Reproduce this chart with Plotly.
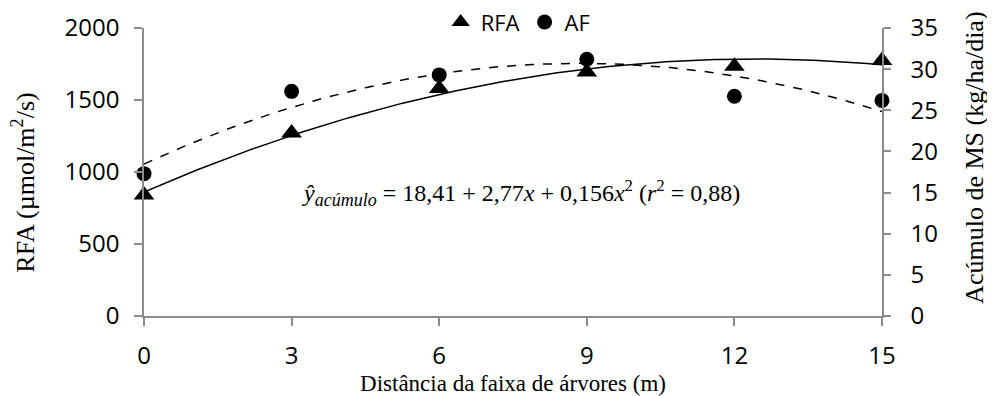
import numpy as np
import plotly.graph_objects as go

distancia = [0, 3, 6, 9, 12, 15]
rfa = [840, 1270, 1580, 1695, 1735, 1775]
af = [17.3, 27.3, 29.3, 31.2, 26.7, 26.2]
x_ticks = [0, 3, 6, 9, 12, 15]

xs = np.linspace(0, 15, 151)
c_rfa = np.polyfit(distancia, rfa, 2)
c_af = np.polyfit(distancia, af, 2)

sans = "Open Sans, Lato, sans-serif"
tick_font = dict(family=sans, size=24, color="#000")
serif = "Liberation Serif, Times New Roman, serif"
axis_grey = "#8c8c8c"

fig = go.Figure()
fig.add_trace(go.Scatter(x=xs, y=np.polyval(c_rfa, xs), mode="lines",
                         line=dict(color="black", width=1.5), showlegend=False,
                         hoverinfo="skip", yaxis="y"))
fig.add_trace(go.Scatter(x=xs, y=np.polyval(c_af, xs), mode="lines",
                         line=dict(color="black", width=1.5, dash="dash"), showlegend=False,
                         hoverinfo="skip", yaxis="y2"))
fig.add_trace(go.Scatter(x=distancia, y=rfa, mode="markers", name="RFA",
                         marker=dict(symbol="triangle-up", size=18, color="black"),
                         cliponaxis=False, yaxis="y"))
fig.add_trace(go.Scatter(x=distancia, y=af, mode="markers", name="AF",
                         marker=dict(symbol="circle", size=15, color="black"),
                         cliponaxis=False, yaxis="y2"))

fig.update_layout(
    width=987, height=388,
    margin=dict(l=136, r=113, t=20, b=80, autoexpand=False),
    plot_bgcolor="white", paper_bgcolor="white",
    showlegend=True,
    legend=dict(orientation="h", x=0.507, y=1.02, xanchor="center", yanchor="middle",
                font=dict(family=sans, size=22, color="#000"),
                itemwidth=30, tracegroupgap=0,
                bgcolor="rgba(0,0,0,0)"),
    xaxis=dict(range=[0, 15], tickvals=x_ticks, showgrid=False, zeroline=False,
               showline=True, linecolor=axis_grey, linewidth=1.5,
               ticks="outside", ticklen=8, tickcolor=axis_grey, tickwidth=1.5,
               tickfont=tick_font, ticklabelstandoff=9,
               title=dict(text="Distância da faixa de árvores (m)",
                          font=dict(family=serif, size=23, color="#000"), standoff=4)),
    yaxis=dict(range=[0, 2000], dtick=500, showgrid=False, zeroline=False,
               showline=True, linecolor=axis_grey, linewidth=1.5,
               ticks="outside", ticklen=8, tickcolor=axis_grey, tickwidth=1.5,
               tickfont=tick_font, ticklabelstandoff=10),
    yaxis2=dict(range=[0, 35], dtick=5, overlaying="y", side="right", showgrid=False,
                zeroline=False, showline=True, linecolor=axis_grey, linewidth=1.5,
                ticks="outside", ticklen=7, tickcolor=axis_grey, tickwidth=1.5,
                tickfont=tick_font, ticklabelstandoff=15),
    annotations=[
        dict(x=0.511, y=0.427, xref="paper", yref="paper", showarrow=False,
             xanchor="center", yanchor="middle",
             text=("<i>ŷ</i><sub><i><span style='font-size:18px'>acúmulo</span></i></sub> = "
                   "18,41 + 2,77<i>x</i> + 0,156<i>x</i><sup>2</sup> "
                   "(<i>r</i><sup>2</sup> = 0,88)"),
             font=dict(family=serif, size=24, color="#000")),
        dict(x=-0.163, y=0.462, xref="paper", yref="paper", showarrow=False,
             xanchor="center", yanchor="middle", textangle=-90,
             text="RFA (µmol/m<sup>2</sup>/s)",
             font=dict(family=serif, size=26, color="#000")),
        dict(x=1.126, y=0.549, xref="paper", yref="paper", showarrow=False,
             xanchor="center", yanchor="middle", textangle=-90,
             text="Acúmulo de MS (kg/ha/dia)",
             font=dict(family=serif, size=26, color="#000")),
    ],
)

fig.write_html("out.html")
